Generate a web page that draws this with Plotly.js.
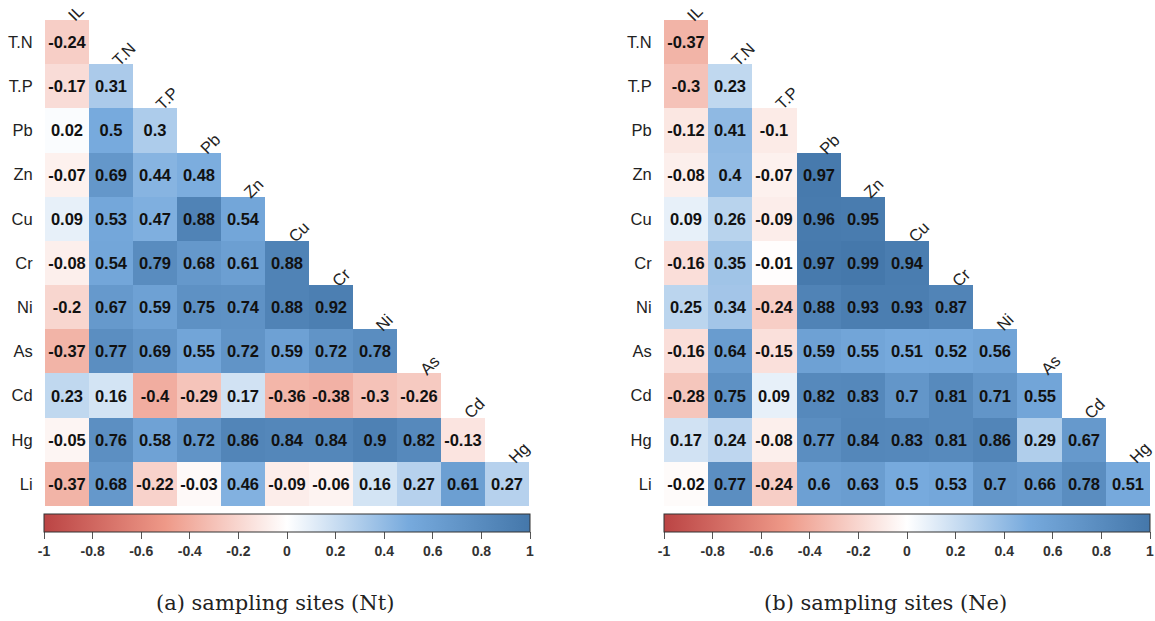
<!DOCTYPE html>
<html><head><meta charset="utf-8">
<script src="https://cdn.plot.ly/plotly-3.0.1.min.js"></script>
<style>html,body{margin:0;padding:0;background:#fff}#chart{width:1155px;height:621px}</style>
</head><body><div id="chart"></div>
<script>
const rowLabels = ['T.N','T.P','Pb','Zn','Cu','Cr','Ni','As','Cd','Hg','Li'];
const colLabels = ['IL','T.N','T.P','Pb','Zn','Cu','Cr','Ni','As','Cd','Hg'];

// lower-triangular correlation values, rows T.N..Li, columns IL..Hg
const corrNt = [
  [-0.24],
  [-0.17, 0.31],
  [0.02, 0.5, 0.3],
  [-0.07, 0.69, 0.44, 0.48],
  [0.09, 0.53, 0.47, 0.88, 0.54],
  [-0.08, 0.54, 0.79, 0.68, 0.61, 0.88],
  [-0.2, 0.67, 0.59, 0.75, 0.74, 0.88, 0.92],
  [-0.37, 0.77, 0.69, 0.55, 0.72, 0.59, 0.72, 0.78],
  [0.23, 0.16, -0.4, -0.29, 0.17, -0.36, -0.38, -0.3, -0.26],
  [-0.05, 0.76, 0.58, 0.72, 0.86, 0.84, 0.84, 0.9, 0.82, -0.13],
  [-0.37, 0.68, -0.22, -0.03, 0.46, -0.09, -0.06, 0.16, 0.27, 0.61, 0.27]
];
const corrNe = [
  [-0.37],
  [-0.3, 0.23],
  [-0.12, 0.41, -0.1],
  [-0.08, 0.4, -0.07, 0.97],
  [0.09, 0.26, -0.09, 0.96, 0.95],
  [-0.16, 0.35, -0.01, 0.97, 0.99, 0.94],
  [0.25, 0.34, -0.24, 0.88, 0.93, 0.93, 0.87],
  [-0.16, 0.64, -0.15, 0.59, 0.55, 0.51, 0.52, 0.56],
  [-0.28, 0.75, 0.09, 0.82, 0.83, 0.7, 0.81, 0.71, 0.55],
  [0.17, 0.24, -0.08, 0.77, 0.84, 0.83, 0.81, 0.86, 0.29, 0.67],
  [-0.02, 0.77, -0.24, 0.6, 0.63, 0.5, 0.53, 0.7, 0.66, 0.78, 0.51]
];
const cbTickVals = [-1, -0.8, -0.6, -0.4, -0.2, 0, 0.2, 0.4, 0.6, 0.8, 1];
const cbTickText = ['-1', '-0.8', '-0.6', '-0.4', '-0.2', '0', '0.2', '0.4', '0.6', '0.8', '1'];
const captions = ['(a) sampling sites (Nt)', '(b) sampling sites (Ne)'];

const W = 1155, H = 621;
const px = v => v / W, py = v => 1 - v / H;
const colorscale = [[0, '#BB4444'], [0.25, '#EE9988'], [0.5, '#FFFFFF'], [0.75, '#77AADD'], [1, '#4477AA']];
const labelFont = {family: 'Liberation Sans, Arial, sans-serif', size: 16.5, color: '#222'};

function fullMatrix(tri) {
  return rowLabels.map((r, i) => colLabels.map((c, j) => j < tri[i].length ? tri[i][j] : null));
}
function textMatrix(tri) {
  return rowLabels.map((r, i) => colLabels.map((c, j) => j < tri[i].length ? String(tri[i][j]) : ''));
}

function heat(tri, xa, ya, ca) {
  return {
    type: 'heatmap', x: colLabels, y: rowLabels, z: fullMatrix(tri), text: textMatrix(tri),
    texttemplate: '%{text}', textfont: {family: 'Liberation Sans, Arial, sans-serif', size: 16.5, color: '#111', weight: 'bold'},
    xaxis: xa, yaxis: ya, coloraxis: ca, hoverinfo: 'skip', xgap: 0, ygap: 0
  };
}

const data = [heat(corrNt, 'x', 'y', 'coloraxis'), heat(corrNe, 'x2', 'y2', 'coloraxis2')];

function xax(d0, d1, anchor) {
  return {domain: [px(d0), px(d1)], anchor: anchor, type: 'category', categoryarray: colLabels,
    range: [-0.5, 10.5], showticklabels: false, showgrid: false, zeroline: false, showline: false, ticks: '', fixedrange: true};
}
function yax(anchor) {
  return {domain: [py(506), py(20)], anchor: anchor, type: 'category', categoryarray: rowLabels,
    range: [10.5, -0.5], showgrid: false, zeroline: false, showline: false,
    ticks: 'outside', ticklen: 8, tickcolor: 'rgba(0,0,0,0)', tickfont: labelFont, fixedrange: true};
}
function cbar(x0) {
  return {colorscale: colorscale, cmin: -1, cmax: 1, colorbar: {
    orientation: 'h', x: px(x0), xanchor: 'left', y: py(514), yanchor: 'top', yref: 'paper',
    len: 486, lenmode: 'pixels', thickness: 18, thicknessmode: 'pixels',
    outlinewidth: 1, outlinecolor: '#333', xpad: 0, ypad: 0,
    ticks: 'outside', ticklen: 7, tickcolor: '#555', tickvals: cbTickVals, ticktext: cbTickText,
    tickfont: {family: 'Liberation Sans, Arial, sans-serif', size: 14, color: '#333', weight: 'bold'}
  }};
}

const annotations = [];
[['x', 'y'], ['x2', 'y2']].forEach(([xa, ya]) => {
  colLabels.forEach((c, j) => {
    annotations.push({xref: xa, yref: ya, x: j, y: j - 0.5, text: c, showarrow: false, textangle: -45,
      xanchor: 'left', yanchor: 'bottom', xshift: -4, yshift: -6, font: labelFont, borderpad: 0});
  });
});
[275, 885].forEach((cx, k) => {
  annotations.push({xref: 'paper', yref: 'paper', x: px(cx), y: py(603), text: captions[k], showarrow: false,
    xanchor: 'center', yanchor: 'middle', font: {family: 'DejaVu Serif, serif', size: 21, color: '#222'}});
});

const layout = {
  width: W, height: H, margin: {l: 0, r: 0, t: 0, b: 0, autoexpand: false},
  paper_bgcolor: '#fff', plot_bgcolor: 'rgba(0,0,0,0)', showlegend: false,
  xaxis: xax(45, 529, 'y'), yaxis: yax('x'),
  xaxis2: xax(664, 1150, 'y2'), yaxis2: yax('x2'),
  coloraxis: cbar(44), coloraxis2: cbar(664),
  annotations: annotations
};

Plotly.newPlot('chart', data, layout, {displayModeBar: false, staticPlot: true});
</script></body></html>
